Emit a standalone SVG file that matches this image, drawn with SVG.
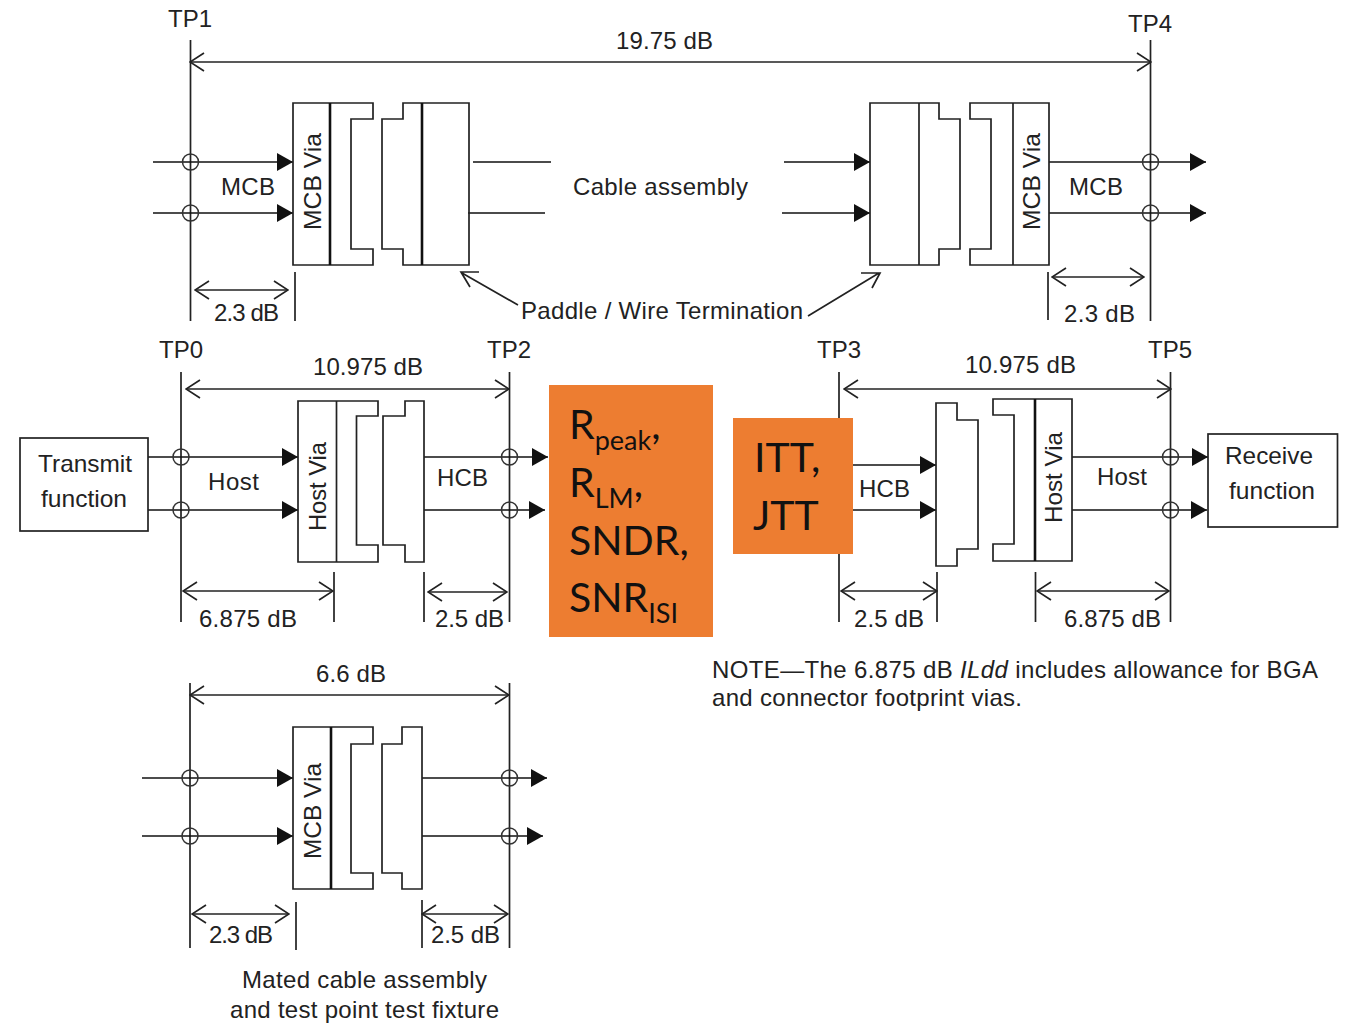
<svg xmlns="http://www.w3.org/2000/svg" width="1350" height="1024" viewBox="0 0 1350 1024">
<style>
text{font-family:"Liberation Sans",Arial,sans-serif;font-size:24px;fill:#222}
.s{fill:none;stroke:#222;stroke-width:1.7}
.t{fill:none;stroke:#111;stroke-width:2.6}
.d{fill:none;stroke:#222;stroke-width:1.5;marker-start:url(#o);marker-end:url(#o)}
.a{fill:none;stroke:#111;stroke-width:1.6;marker-end:url(#f)}
.l{fill:none;stroke:#111;stroke-width:1.6}
.c{fill:none;stroke:#333;stroke-width:1.5}
.or{fill:#ED7D31}
.ob text{font-family:Lato,"Open Sans",sans-serif;font-size:41px;fill:#111}
.ob .sub{font-size:27px}
</style>
<defs>
<marker id="f" markerUnits="userSpaceOnUse" viewBox="0 0 16 18" markerWidth="16" markerHeight="18" refX="16" refY="9" orient="auto"><path d="M0 0L16 9L0 18Z" fill="#111"/></marker>
<marker id="o" markerUnits="userSpaceOnUse" viewBox="0 0 16 20" markerWidth="16" markerHeight="20" refX="15" refY="10" orient="auto-start-reverse"><path d="M1 1L15 10L1 19" fill="none" stroke="#222" stroke-width="1.7"/></marker>
<circle id="p" r="8" class="c"/>
</defs>
<rect width="1350" height="1024" fill="#fff"/>

<g id="connectors">
<path class="s" d="M190.500 40V321M1150.500 40V321M295 272V321M1048 272V320"/>
<path class="d" d="M190 62H1151"/>
<path class="d" d="M195 290H288"/>
<path class="d" d="M1052 277H1144"/>
<path class="a" d="M153 162H293"/><path class="a" d="M153 213H293"/>
<path class="l" d="M473 162H551M468 213H545"/>
<path class="a" d="M784 162H870"/><path class="a" d="M782 213H870"/>
<path class="a" d="M1049 162H1206"/><path class="a" d="M1049 213H1206"/>
<path class="s" d="M518 305L462 273M479 272H461L470 287"/>
<path class="s" d="M808 316L879 273M861 273H880L872 288"/>
<use href="#p" x="190.500" y="162"/><use href="#p" x="190.500" y="213"/>
<use href="#p" x="1150.500" y="162"/><use href="#p" x="1150.500" y="213"/>
<path class="s" d="M181 372V622M509.500 372V622M334 572V622M424 572V622"/>
<path class="d" d="M186 389H509"/>
<path class="d" d="M183 591H333"/>
<path class="d" d="M428 592H507"/>
<path class="a" d="M148 457H298"/><path class="a" d="M148 510H298"/>
<path class="a" d="M424 457H548"/><path class="a" d="M424 510H545"/>
<use href="#p" x="181" y="457"/><use href="#p" x="181" y="510"/>
<use href="#p" x="509.500" y="457"/><use href="#p" x="509.500" y="510"/>
<path class="s" d="M839 372V622M1170.500 372V622M937 572V622M1035.500 572V622"/>
<path class="d" d="M844 389H1171"/>
<path class="d" d="M841 591H937"/>
<path class="d" d="M1037 591H1169"/>
<path class="a" d="M853 465H936"/><path class="a" d="M853 510H936"/>
<path class="a" d="M1072 457H1208"/><path class="a" d="M1072 510H1207"/>
<use href="#p" x="1170.500" y="457"/><use href="#p" x="1170.500" y="510"/>
<path class="s" d="M190 683V948M509.500 683V948M296 902V950M422 900V948"/>
<path class="d" d="M190 695H509"/>
<path class="d" d="M192 914H289"/>
<path class="d" d="M422 914H508"/>
<path class="a" d="M142 778H293"/><path class="a" d="M142 836H293"/>
<path class="a" d="M422 778H547"/><path class="a" d="M422 836H543"/>
<use href="#p" x="190" y="778"/><use href="#p" x="190" y="836"/>
<use href="#p" x="509.500" y="778"/><use href="#p" x="509.500" y="836"/>
</g>

<g id="mcb-left">
<path class="s" d="M293 103H373V119H351V249H373V265H293Z"/><path class="t" d="M330 103V265"/>
<path class="s" d="M382 119H403V103H469V265H403V249H382Z"/><path class="t" d="M422 103V265"/>
<text transform="translate(320.500 230) rotate(-90)" textLength="97" lengthAdjust="spacingAndGlyphs">MCB Via</text>
</g>
<g id="mcb-right">
<path class="s" d="M870 103H939V119H960V249H939V265H870Z"/><path class="s" d="M919 103V265"/>
<path class="s" d="M970 119V103H1049V265H970V249H991V119Z"/><path class="s" d="M1013 103V265"/>
<text transform="translate(1040 230) rotate(-90)" textLength="97" lengthAdjust="spacingAndGlyphs">MCB Via</text>
</g>
<g id="transmit"><rect class="s" x="20" y="438" width="128" height="93"/>
<text x="38" y="472" textLength="94" lengthAdjust="spacingAndGlyphs">Transmit</text>
<text x="41" y="507" textLength="86" lengthAdjust="spacingAndGlyphs">function</text></g>
<g id="host-left">
<path class="s" d="M298 401H378V416H356.500V545H378V562H298Z"/><path class="s" d="M336.500 401V562"/>
<path class="s" d="M383 416H405V401H424V562H405V545H383Z"/>
<text transform="translate(326 531) rotate(-90)" textLength="89" lengthAdjust="spacingAndGlyphs">Host Via</text>
</g>
<g id="hcb-right">
<path class="s" d="M936 403H957V420H978V549H957V566H936Z"/>
</g>
<g id="host-right">
<path class="s" d="M993 415V399H1072V561H993V544H1014V415Z"/><path class="t" d="M1035 399V561"/>
<text transform="translate(1062 523) rotate(-90)" textLength="91" lengthAdjust="spacingAndGlyphs">Host Via</text>
</g>
<g id="receive"><rect class="s" x="1208" y="434" width="129.500" height="93"/>
<text x="1225" y="464" textLength="88" lengthAdjust="spacingAndGlyphs">Receive</text>
<text x="1229" y="499" textLength="86" lengthAdjust="spacingAndGlyphs">function</text></g>
<g id="mated">
<path class="s" d="M293 727H373V744H351V873H373V889H293Z"/><path class="t" d="M331 727V889"/>
<path class="s" d="M382 744H402V727H422V889H402V873H382Z"/>
<text transform="translate(321 859) rotate(-90)" textLength="96" lengthAdjust="spacingAndGlyphs">MCB Via</text>
</g>

<g id="labels">
<text x="168" y="27" textLength="44">TP1</text>
<text x="1128" y="32" textLength="44">TP4</text>
<text x="616" y="49" textLength="97">19.75 dB</text>
<text x="221" y="195" textLength="54">MCB</text>
<text x="573" y="195" textLength="175">Cable assembly</text>
<text x="1069" y="195" textLength="54">MCB</text>
<text x="214" y="321" textLength="65">2.3 dB</text>
<text x="1064" y="322" textLength="71">2.3 dB</text>
<text x="521" y="319" textLength="282">Paddle / Wire Termination</text>
<text x="159" y="358" textLength="44">TP0</text>
<text x="487" y="358" textLength="44">TP2</text>
<text x="817" y="358" textLength="44">TP3</text>
<text x="1148" y="358" textLength="44">TP5</text>
<text x="313" y="375" textLength="110">10.975 dB</text>
<text x="965" y="373" textLength="111">10.975 dB</text>
<text x="208" y="490" textLength="51">Host</text>
<text x="437" y="486" textLength="51">HCB</text>
<text x="859" y="497" textLength="51">HCB</text>
<text x="1097" y="485" textLength="50">Host</text>
<text x="199" y="627" textLength="98">6.875 dB</text>
<text x="435" y="627" textLength="69">2.5 dB</text>
<text x="854" y="627" textLength="70">2.5 dB</text>
<text x="1064" y="627" textLength="97">6.875 dB</text>
<text x="712" y="678" textLength="606">NOTE—The 6.875 dB <tspan font-style="italic">ILdd</tspan> includes allowance for BGA</text>
<text x="712" y="706" textLength="310">and connector footprint vias.</text>
<text x="316" y="682" textLength="70">6.6 dB</text>
<text x="209" y="943" textLength="64">2.3 dB</text>
<text x="431" y="943" textLength="69">2.5 dB</text>
<text x="242" y="988" textLength="245">Mated cable assembly</text>
<text x="230" y="1018" textLength="269">and test point test fixture</text>
</g>

<g id="tests-tx" class="ob">
<rect class="or" x="549" y="385" width="164" height="252"/>
<text x="569" y="439">R<tspan class="sub" dy="11">peak</tspan><tspan dy="-11">,</tspan></text>
<text x="569" y="497">R<tspan class="sub" dy="11">LM</tspan><tspan dy="-11">,</tspan></text>
<text x="569" y="555">SNDR,</text>
<text x="569" y="612">SNR<tspan class="sub" dy="11">ISI</tspan></text>
</g>
<g id="tests-rx" class="ob">
<rect class="or" x="733" y="418" width="120" height="136"/>
<text x="754" y="472">ITT,</text>
<text x="753" y="530">JTT</text>
</g>
</svg>
